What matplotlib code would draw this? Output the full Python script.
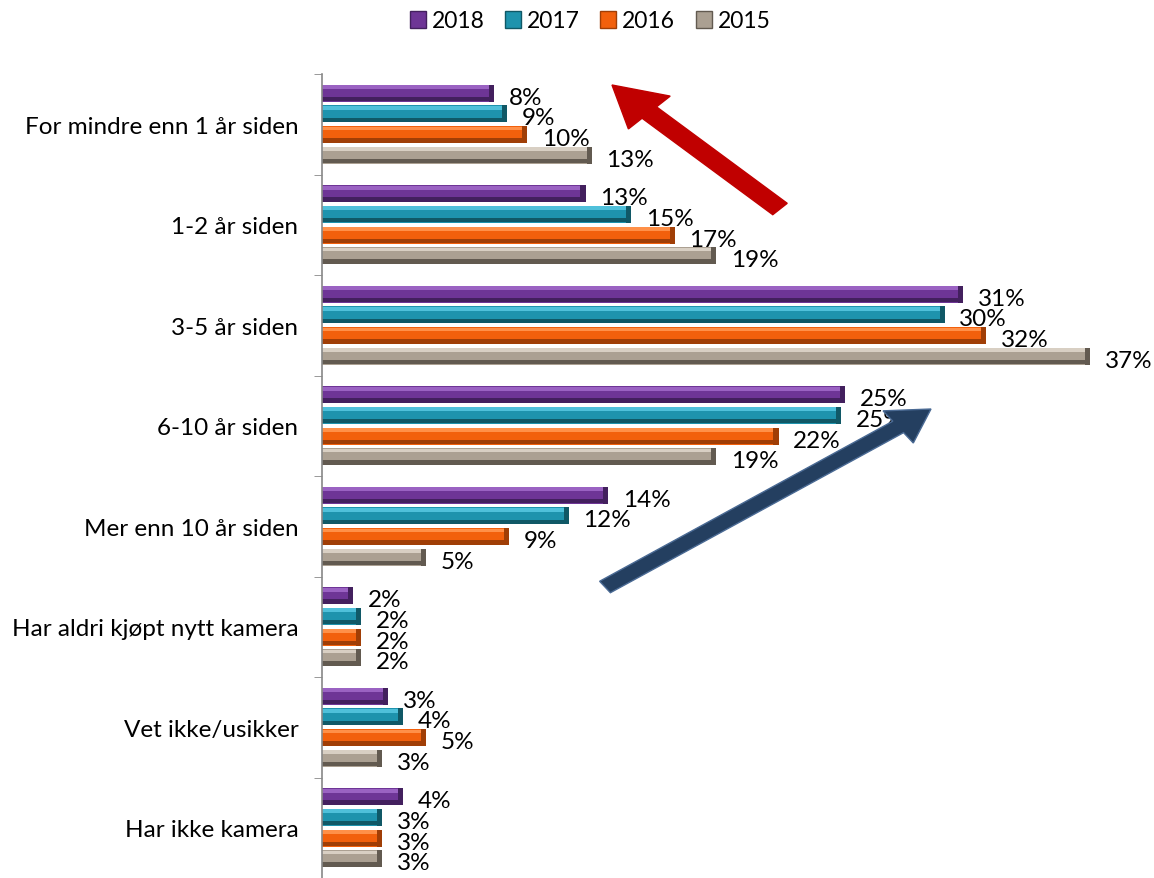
import matplotlib.pyplot as plt
import numpy as np
from matplotlib.patches import Patch, FancyArrow

plt.rcParams['font.family'] = ['Lato', 'DejaVu Sans']

# Data
categories = ["For mindre enn 1 år siden", "1-2 år siden", "3-5 år siden",
              "6-10 år siden", "Mer enn 10 år siden", "Har aldri kjøpt nytt kamera",
              "Vet ikke/usikker", "Har ikke kamera"]
years = ["2018", "2017", "2016", "2015"]
v2018 = [8.3, 12.7, 30.9, 25.2, 13.8, 1.5, 3.2, 3.9]
v2017 = [8.9, 14.9, 30.0, 25.0, 11.9, 1.9, 3.9, 2.9]
v2016 = [9.9, 17.0, 32.0, 22.0, 9.0, 1.9, 5.0, 2.9]
v2015 = [13.0, 19.0, 37.0, 19.0, 5.0, 1.9, 2.9, 2.9]
series = [v2018, v2017, v2016, v2015]

# base, light bevel, dark bevel
colors = [("#6E3596", "#9A62C2", "#43205E"),
          ("#1E93AD", "#4FC0DA", "#105866"),
          ("#F2600C", "#FF9048", "#A03E06"),
          ("#ABA092", "#D8CFC3", "#625A50")]

fig = plt.figure(figsize=(11.54, 8.79), dpi=100)
ax = fig.add_axes([322/1154, 0.0, (1090-322)/1154, 1 - 75/879])

y = np.arange(len(categories))
h = 0.17
step = 0.205
for k, (vals, (base, light, dark)) in enumerate(zip(series, colors)):
    pos = y + (k - 1.5) * step
    vals = np.array(vals)
    ax.barh(pos, vals, height=h, color=base, edgecolor="none")
    ax.barh(pos - h * 0.36, vals, height=h * 0.22, color=light, edgecolor="none")
    ax.barh(pos + h * 0.34, vals, height=h * 0.26, color=dark, edgecolor="none")
    ax.barh(pos, np.minimum(vals, 0.25), left=vals - np.minimum(vals, 0.25),
            height=h, color=dark, edgecolor="none")
    for p, v in zip(pos, vals):
        ax.text(v + 0.7, p + 0.04, f"{round(v):d}%", va="center", ha="left",
                fontsize=17.5, clip_on=False)

ax.set_xlim(0, 37)
ax.set_ylim(len(categories) - 0.5, -0.5)
ax.set_yticks(y)
ax.set_yticklabels(categories, fontsize=17.5)
ax.set_yticks(np.arange(len(categories) + 1) - 0.5, minor=True)
ax.tick_params(axis="y", which="major", length=0, pad=17)
ax.tick_params(axis="y", which="minor", length=6, color="#888888", direction="out")
ax.set_xticks([])
for s in ["top", "right", "bottom"]:
    ax.spines[s].set_visible(False)
ax.spines["left"].set_color("#888888")
ax.spines["left"].set_linewidth(1.2)

# Trend arrows
fig.patches.append(FancyArrow(780/1154, 1 - 210/879, -168/1154, 124/879,
                              width=0.018, head_width=0.052, head_length=0.045,
                              length_includes_head=True, transform=fig.transFigure,
                              color="#C00000", figure=fig))
fig.patches.append(FancyArrow(605/1154, 1 - 588/879, 326/1154, 178/879,
                              width=0.016, head_width=0.045, head_length=0.035,
                              length_includes_head=True, transform=fig.transFigure,
                              facecolor="#243F60", edgecolor="#4A6A94", linewidth=1,
                              figure=fig))

handles = [Patch(facecolor=c[0], edgecolor=c[2], label=yr) for yr, c in zip(years, colors)]
fig.legend(handles=handles, loc="center", bbox_to_anchor=(590/1154, 1 - 22/879),
           ncol=4, frameon=False, fontsize=16.5, handlelength=0.7, handleheight=0.7,
           handletextpad=0.25, columnspacing=0.9)

fig.savefig("out.png", dpi=100)
